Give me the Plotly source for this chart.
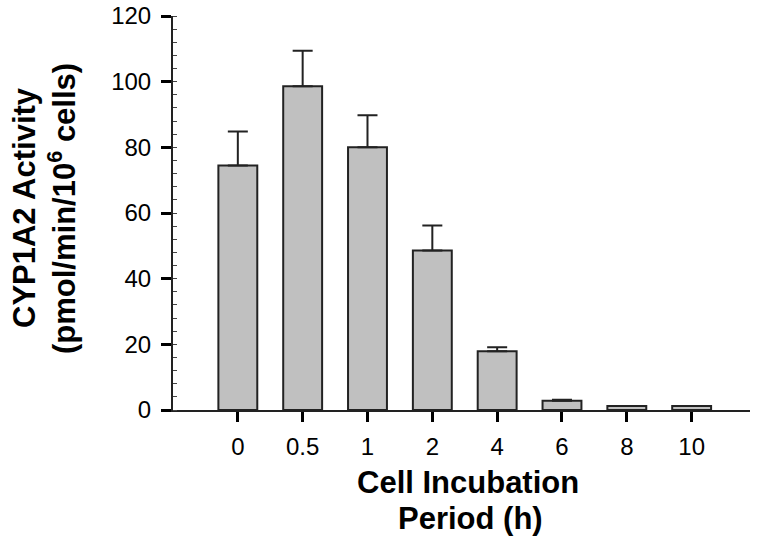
import plotly.graph_objects as go

categories = ["0", "0.5", "1", "2", "4", "6", "8", "10"]
activity = [74.5, 98.6, 80.0, 48.6, 17.9, 2.8, 1.2, 1.2]
sem = [10.3, 10.8, 9.8, 7.6, 1.2, 0.3, 0.0, 0.0]

xpos = list(range(len(categories)))

fig = go.Figure()
fig.add_trace(go.Bar(
    x=xpos, y=activity, width=0.6,
    marker=dict(color="#c0c0c0", line=dict(color="#222222", width=2)),
    error_y=dict(type="data", array=sem, arrayminus=[0]*len(sem), symmetric=False,
                 color="#222222", thickness=2, width=10, visible=True),
    showlegend=False,
))

font = "Liberation Sans, Arial, sans-serif"
W, H = 769, 540
L, R, T, B = 173, 19, 16, 130
PW = W - L - R
PH = H - T - B
fig.update_layout(
    width=W, height=H,
    margin=dict(l=L, r=R, t=T, b=B, autoexpand=False),
    plot_bgcolor="white", paper_bgcolor="white",
    font=dict(family=font, color="black"),
    xaxis=dict(range=[-1, 7.9], tickvals=xpos, ticktext=categories,
               showline=True, linecolor="#222222", linewidth=2,
               ticks="outside", ticklen=10, tickwidth=3, tickcolor="black",
               ticklabelstandoff=4, ticklabeloverflow="allow",
               tickfont=dict(size=24), showgrid=False, zeroline=False, automargin=False),
    yaxis=dict(range=[0, 120], tickvals=[0, 20, 40, 60, 80, 100, 120],
               showline=True, linecolor="#222222", linewidth=2,
               ticks="outside", ticklen=10, tickwidth=3, tickcolor="black",
               ticklabelstandoff=5, ticklabeloverflow="allow",
               tickfont=dict(size=24), showgrid=False, zeroline=False, automargin=False,
               minor=dict(ticks="inside", dtick=4, ticklen=4, tickwidth=1, tickcolor="#444444")),
)

tfont = dict(size=31, family=font, color="black")
# x-axis title (two lines)
fig.add_annotation(text="<b>Cell Incubation</b>", xref="paper", yref="paper",
                   x=(468 - L) / PW, y=0, yshift=-72, showarrow=False,
                   xanchor="center", yanchor="middle", font=tfont)
fig.add_annotation(text="<b>Period (h)</b>", xref="paper", yref="paper",
                   x=(470 - L) / PW, y=0, yshift=-108, showarrow=False,
                   xanchor="center", yanchor="middle", font=tfont)
# y-axis title (two lines)
fig.add_annotation(text="<b>CYP1A2 Activity</b>", xref="paper", yref="paper",
                   x=0, xshift=-(L - 24), y=(410 - 208) / PH, textangle=-90,
                   showarrow=False, xanchor="center", yanchor="middle", font=tfont)
fig.add_annotation(text="<b>(pmol/min/10<sup>6</sup> cells)</b>", xref="paper", yref="paper",
                   x=0, xshift=-(L - 62), y=(410 - 209) / PH, textangle=-90,
                   showarrow=False, xanchor="center", yanchor="middle", font=tfont)

fig.write_html("out.html", config={"displayModeBar": False},
               post_script="document.body.style.margin='0';")
